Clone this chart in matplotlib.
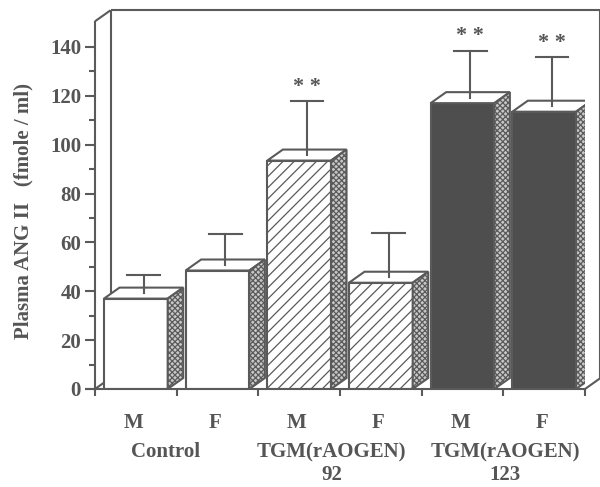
import matplotlib.pyplot as plt
from matplotlib.patches import Polygon
import numpy as np

plt.rcParams['font.family'] = ['Liberation Serif', 'DejaVu Serif']
plt.rcParams['font.weight'] = 'bold'
plt.rcParams['hatch.linewidth'] = 0.9

# data
sexes = ["M", "F", "M", "F", "M", "F"]
groups = ["Control", "TGM(rAOGEN)", "TGM(rAOGEN)"]
group_sub = ["", "92", "123"]
group_x = [0.87, 2.9, 5.02]
ang2 = [37.0, 48.5, 93.5, 43.5, 117.0, 113.5]
err_top = [46.5, 63.5, 118.0, 64.0, 138.5, 136.0]
signif = [False, False, True, False, True, True]

INK = "#5a5a5a"
TXT = "#555555"
DARK = "#4e4e4e"
DX, DY = 0.19, 4.5      # 3-D depth offset in data units
YTOP = 150.5
W = 0.78

fig = plt.figure(figsize=(6.0, 4.87), dpi=100)
ax = fig.add_axes([95 / 600, 98 / 487, 490 / 600, 367.7 / 487])
ax.set_xlim(0, 6)
ax.set_ylim(0, YTOP)
for s in ax.spines.values():
    s.set_visible(False)

# back wall and frame
kw = dict(color=INK, lw=1.5, clip_on=False, solid_capstyle="butt")
ax.plot([DX, DX], [DY, YTOP + DY], zorder=0.5, **kw)
ax.plot([DX, 6 + DX], [YTOP + DY, YTOP + DY], zorder=0.5, **kw)
ax.plot([6 + DX - 0.01, 6 + DX - 0.01], [DY, YTOP + DY], zorder=0.5, **kw)
ax.plot([0, 0], [0, YTOP], zorder=4, **kw)
ax.plot([0, DX], [YTOP, YTOP + DY], zorder=4, **kw)
ax.plot([-0.12, 6], [0, 0], zorder=4, **kw)
ax.plot([6, 6 + DX], [0, DY], zorder=4, **kw)
ax.plot([0, DX], [0, DY], zorder=0.6, **kw)

x = np.arange(6) + 0.5
faces = ["white", "white", "white", "white", DARK, DARK]
hatches = ["", "", "///", "///", "", ""]
for i in range(6):
    h = ang2[i]
    l, r = x[i] - W / 2, x[i] + W / 2
    ax.bar(x[i], h, width=W, color=faces[i], edgecolor=INK, hatch=hatches[i],
           linewidth=1.5, zorder=2)
    top = Polygon([(l, h), (l + DX, h + DY), (r + DX, h + DY), (r, h)],
                  closed=True, facecolor="white", edgecolor=INK, lw=1.5, zorder=2)
    side = Polygon([(r, 0), (r + DX, DY), (r + DX, h + DY), (r, h)],
                   closed=True, facecolor="#c8c8c8", edgecolor=INK, hatch="xxxxxx",
                   lw=1.5, zorder=2)
    ax.add_patch(top)
    ax.add_patch(side)
    # upper error bar from the centre of the top face
    ex = x[i] + DX / 2
    ax.plot([ex, ex], [h + DY / 2, err_top[i]], color=INK, lw=1.5, zorder=3)
    ax.plot([ex - 0.2, ex + 0.2], [err_top[i], err_top[i]], color=INK, lw=1.5, zorder=3)
    if signif[i]:
        ax.annotate("* *", (ex, err_top[i]), xytext=(0, 3), textcoords="offset points",
                    ha="center", va="bottom", fontsize=16, color=TXT)

# axes ticks
ax.set_yticks(np.arange(0, 141, 20))
ax.set_yticks(np.arange(10, 150, 20), minor=True)
ax.set_xticks(np.arange(0, 7))
ax.set_xticklabels([])
ax.tick_params(axis="y", which="major", length=7, width=1.5, color=INK,
               labelsize=15, labelcolor=TXT, pad=3)
ax.tick_params(axis="y", which="minor", length=4, width=1.5, color=INK)
ax.tick_params(axis="x", length=5, width=1.5, color=INK)

for i in range(6):
    ax.text(x[i] - 0.03, -13.9, sexes[i], ha="center", va="center", fontsize=15,
            color=TXT)
for g in range(3):
    ax.text(group_x[g], -25.8, groups[g], ha="center", va="center", fontsize=15,
            color=TXT)
    ax.text(group_x[g], -35.3, group_sub[g], ha="center", va="center", fontsize=15,
            color=TXT)

ax.text(-0.87, 73, "Plasma ANG II   (fmole / ml)", rotation=90, ha="center",
        va="center", fontsize=15, color=TXT)

fig.savefig("out.png", dpi=100)
